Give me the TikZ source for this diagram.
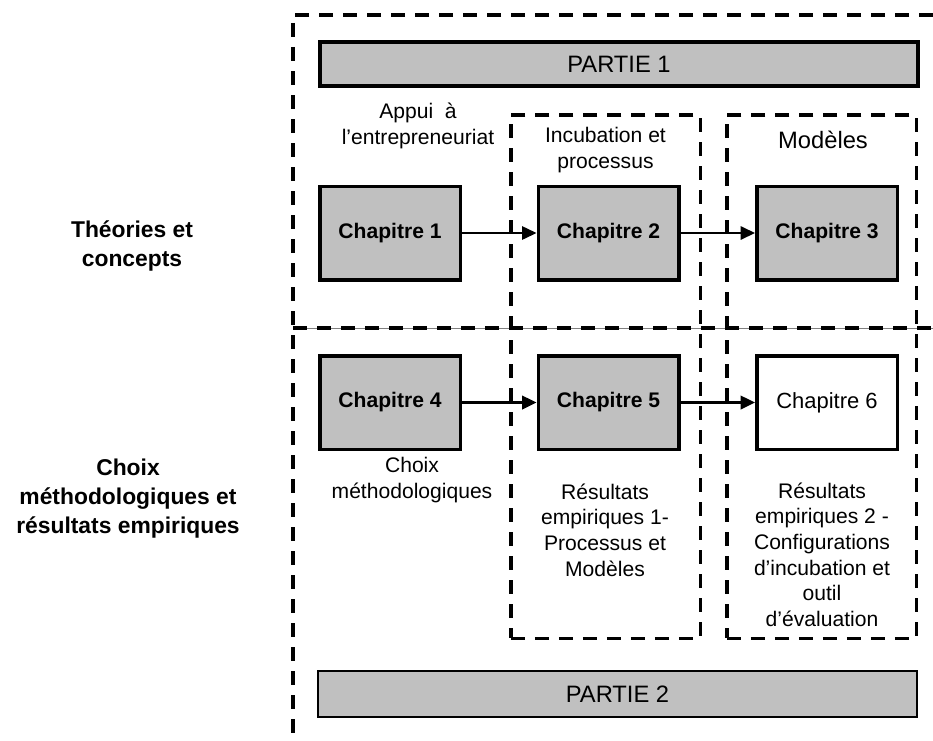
\documentclass[tikz,border=0pt]{standalone}
\usepackage{fontspec}
\setmainfont{Liberation Sans}
\usetikzlibrary{arrows.meta,positioning}
\definecolor{boxgray}{HTML}{C0C0C0}

\begin{document}
\begin{tikzpicture}[
    >={Triangle[length=0.29cm,width=0.27cm]},
    node distance=1.45cm and 1.49cm,
    chap/.style={draw,line width=0.07cm,fill=boxgray,minimum width=2.81cm,minimum height=1.87cm,inner sep=0pt,font=\fontsize{12}{14}\selectfont\bfseries},
    partie/.style={draw,fill=boxgray,inner sep=0pt,font=\fontsize{13.5}{16}\selectfont},
    zone/.style={draw,line width=0.07cm,dash pattern=on 0.28cm off 0.2cm,inner sep=0pt,minimum width=3.79cm,minimum height=10.47cm},
    frame/.style={line width=0.08cm,dash pattern=on 0.28cm off 0.2cm},
    txt/.style={align=center,inner sep=0pt,font=\fontsize{12}{14.6}\selectfont},
    theme/.style={align=center,inner sep=0pt,font=\fontsize{13}{16.5}\selectfont\bfseries}
]
\useasboundingbox (0,0) rectangle (18.66,-14.8);

% cadre general et separation
\draw[frame] (18.66,-0.30) -- (5.86,-0.30) -- (5.86,-14.8);
\draw[gray,line width=0.02cm] (5.86,-6.56) -- (18.66,-6.56);
\draw[frame] (5.86,-6.56) -- (18.66,-6.56);

% zones en pointilles
\node[zone] (zInc) at (12.11,-7.53) {};
\node[zone] (zMod) at (16.43,-7.53) {};

% parties
\node[partie,line width=0.08cm,minimum width=11.96cm,minimum height=0.88cm] (P1) at (12.38,-1.28) {PARTIE 1};
\node[partie,line width=0.04cm,minimum width=11.98cm,minimum height=0.92cm] (P2) at (12.35,-13.88) {PARTIE 2};

% chapitres
\node[chap] (c1) at (7.80,-4.66) {Chapitre 1};
\node[chap, right=of c1] (c2) {Chapitre 2};
\node[chap, right=of c2] (c3) {Chapitre 3};
\node[chap, below=of c1] (c4) {Chapitre 4};
\node[chap, right=of c4] (c5) {Chapitre 5};
\node[chap, right=of c5, fill=white, font=\fontsize{12.5}{14}\selectfont] (c6) {Chapitre 6};

\draw[->,line width=0.03cm] (c1) -- (c2);
\draw[->,line width=0.035cm] (c2) -- (c3);
\draw[->,line width=0.05cm] (c4) -- (c5);
\draw[->,line width=0.05cm] (c5) -- (c6);

% textes
\node[txt] (tAppui) at (8.36,-2.52) {Appui\ \ à\\l’entrepreneuriat};
\node[txt] (tInc) at (12.11,-3.00) {Incubation et\\processus};
\node[txt, font=\fontsize{13.5}{16}\selectfont] (tMod) at (16.46,-2.80) {Modèles};
\node[txt] (tChoix) at (8.24,-9.60) {Choix\\méthodologiques};
\node[txt] (tRes1) at (12.10,-10.60) {Résultats\\empiriques 1-\\Processus et\\Modèles};
\node[txt] (tRes2) at (16.44,-11.09) {Résultats\\empiriques 2 -\\Configurations\\d’incubation et\\outil\\d’évaluation};

\node[theme] (thTheo) at (2.64,-4.92) {Théories et\\concepts};
\node[theme] (thChoix) at (2.56,-9.98) {Choix\\méthodologiques et\\résultats empiriques};
\end{tikzpicture}
\end{document}
